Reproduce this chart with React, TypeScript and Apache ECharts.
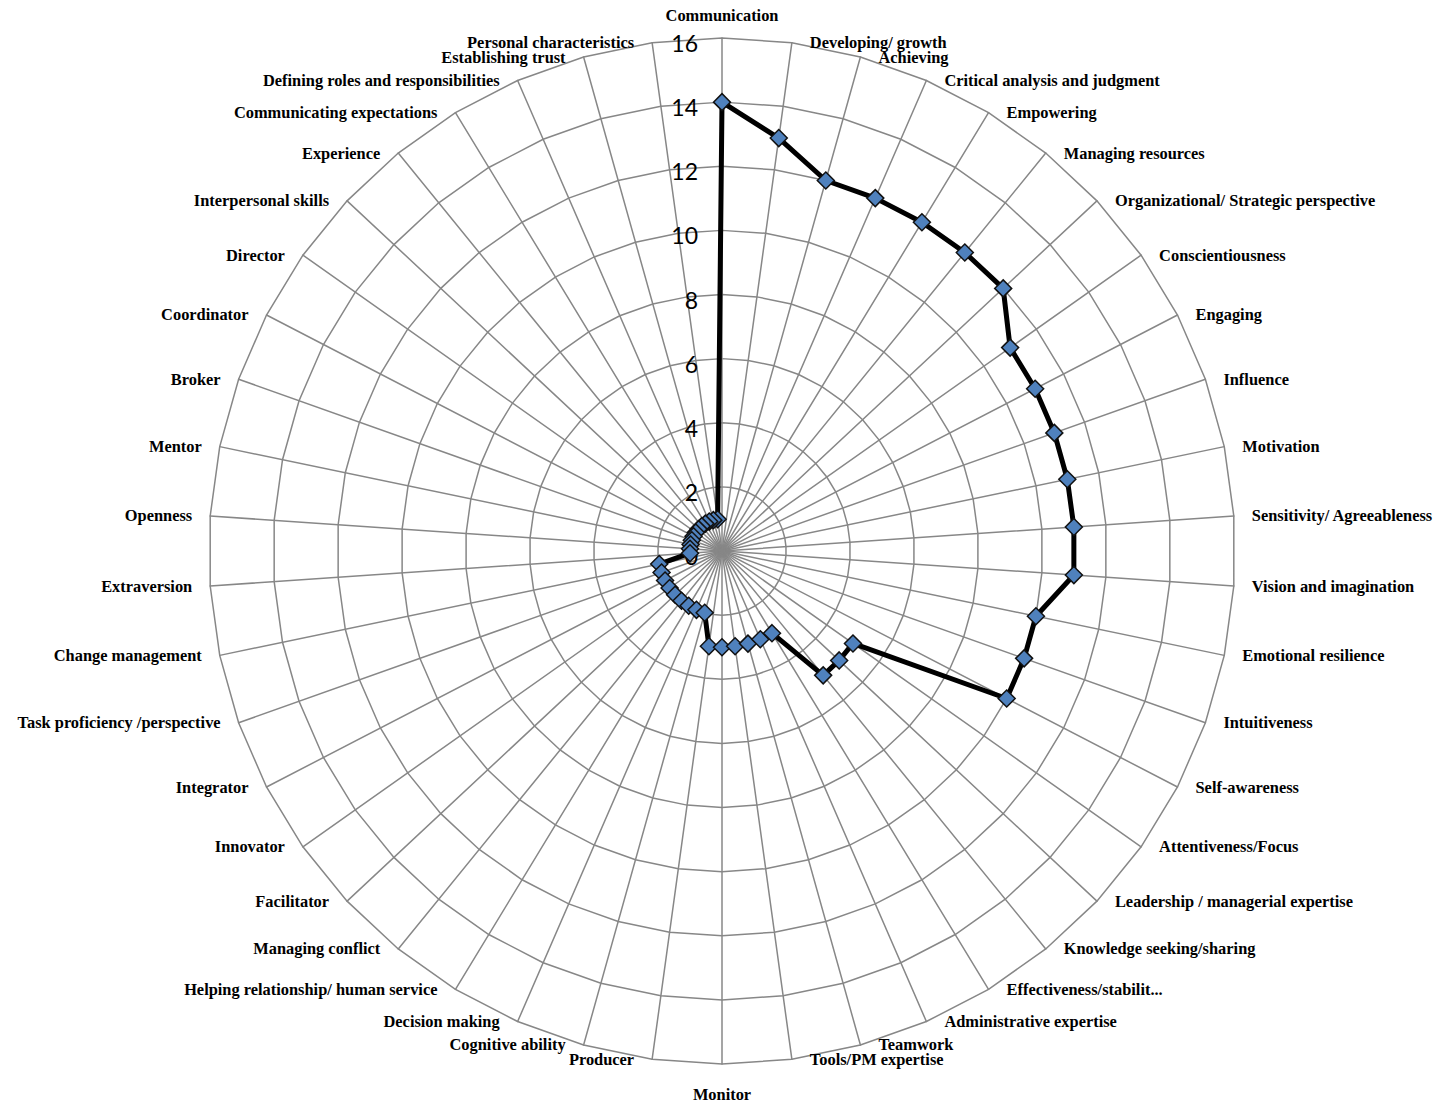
import React, { useEffect, useRef } from "react";
import * as echarts from "echarts";

// Categories in clockwise order, starting at the top (as in the reference)
const categories: string[] = [
  "Communication",
  "Developing/ growth",
  "Achieving",
  "Critical analysis and judgment",
  "Empowering",
  "Managing resources",
  "Organizational/ Strategic perspective",
  "Conscientiousness",
  "Engaging",
  "Influence",
  "Motivation",
  "Sensitivity/ Agreeableness",
  "Vision and imagination",
  "Emotional resilience",
  "Intuitiveness",
  "Self-awareness",
  "Attentiveness/Focus",
  "Leadership / managerial expertise",
  "Knowledge seeking/sharing",
  "Effectiveness/stabilit...",
  "Administrative expertise",
  "Teamwork",
  "Tools/PM expertise",
  "Monitor",
  "Producer",
  "Cognitive ability",
  "Decision making",
  "Helping relationship/ human service",
  "Managing conflict",
  "Facilitator",
  "Innovator",
  "Integrator",
  "Task proficiency /perspective",
  "Change management",
  "Extraversion",
  "Openness",
  "Mentor",
  "Broker",
  "Coordinator",
  "Director",
  "Interpersonal skills",
  "Experience",
  "Communicating expectations",
  "Defining roles and responsibilities",
  "Establishing trust",
  "Personal characteristics",
];

// Values in the same clockwise order
const values: number[] = [
  14, 13, 12, 12, 12, 12, 12, 11, 11, 11, 11, 11, 11, 10, 10, 10, 5, 5, 5, 3,
  3, 3, 3, 3, 3, 2, 2, 2, 2, 2, 2, 2, 2, 2, 1, 1, 1, 1, 1, 1, 1, 1, 1, 1, 1, 1,
];

const tickLabels: number[] = [0, 2, 4, 6, 8, 10, 12, 14, 16];

export default function App() {
  const ref = useRef<HTMLDivElement>(null);

  useEffect(() => {
    if (!ref.current) return;
    const chart = echarts.init(ref.current, null, { renderer: "svg" });
    const n = categories.length;
    // ECharts places radar indicators counter-clockwise; the reference runs clockwise.
    const order = [0, ...Array.from({ length: n - 1 }, (_, i) => n - 1 - i)];
    const axisMin = tickLabels[0];
    const axisMax = tickLabels[tickLabels.length - 1];
    const step = tickLabels[1] - tickLabels[0];
    const indicator = order.map((i) => ({
      name: categories[i],
      min: axisMin,
      max: axisMax,
    }));
    const data = order.map((i) => values[i]);
    const center = [722, 551];
    const radius = 513;
    const grid = "#878787";

    chart.setOption({
      animation: false,
      backgroundColor: "#ffffff",
      radar: {
        center,
        radius,
        shape: "polygon",
        startAngle: 90,
        splitNumber: (axisMax - axisMin) / step,
        indicator,
        nameGap: 0,
        axisName: {
          color: "#000000",
          fontFamily: "'Times New Roman', 'Liberation Serif', serif",
          fontWeight: "bold",
          fontSize: 16.4,
          padding: [22, 18, 15, 18],
        },
        axisLine: { lineStyle: { color: grid, width: 1.5 } },
        splitLine: { lineStyle: { color: grid, width: 1.5 } },
        splitArea: { show: false },
        axisTick: { show: false },
        axisLabel: { show: false },
      },
      // polar used only to carry the value tick labels (slightly below each ring, as in Excel)
      polar: { center: [722, 556], radius },
      angleAxis: {
        type: "value",
        show: false,
        min: 0,
        max: 360,
      },
      radiusAxis: {
        type: "value",
        min: axisMin,
        max: axisMax,
        interval: step,
        z: 5,
        axisLine: { show: false },
        axisTick: { show: false },
        splitLine: { show: false },
        axisLabel: {
          show: true,
          showMinLabel: true,
          showMaxLabel: true,
          color: "#000000",
          fontFamily: "Lato, 'Open Sans', sans-serif",
          fontSize: 23,
          margin: 24,
        },
      },
      series: [
        {
          type: "radar",
          z: 10,
          symbol: "diamond",
          symbolSize: 17,
          lineStyle: { color: "#000000", width: 5 },
          itemStyle: {
            color: "#4F81BD",
            borderColor: "#111111",
            borderWidth: 1.5,
          },
          data: [{ value: data, name: "Frequency" }],
        },
      ],
    });

    return () => chart.dispose();
  }, []);

  return (
    <div
      ref={ref}
      style={{
        position: "absolute",
        left: 0,
        top: 0,
        width: 1441,
        height: 1102,
        background: "#ffffff",
      }}
    />
  );
}
